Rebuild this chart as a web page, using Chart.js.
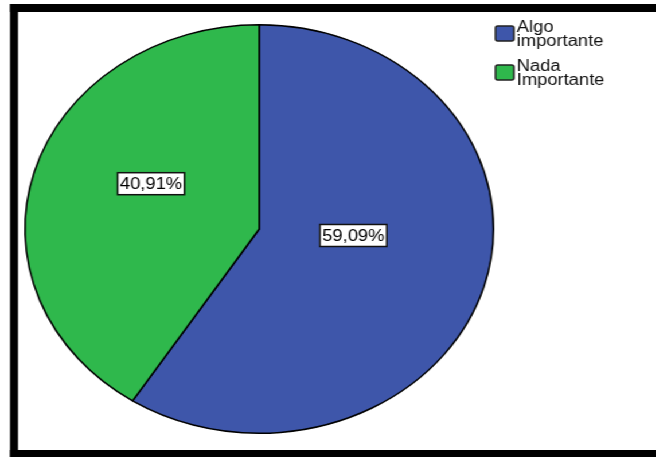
<!DOCTYPE html>
<html>
<head>
<meta charset="utf-8">
<script src="https://cdn.jsdelivr.net/npm/chart.js@4/dist/chart.umd.min.js"></script>
<style>
  html, body { margin: 0; padding: 0; background: #fff; overflow: hidden; }
  #wrap { width: 572px; height: 457px; transform: scaleX(1.147); transform-origin: 0 0; background: #fff; }
</style>
</head>
<body>
<div id="wrap"><canvas id="pieChart" width="572" height="457"></canvas></div>
<script>
const categories = ['Algo importante', 'Nada Importante'];
const legendLines = [['Algo', 'importante'], ['Nada', 'Importante']];
const percentages = [59.09, 40.91];
const sliceColors = ['#3e56aa', '#2fb84c'];

function pctText(v) {
    return v.toFixed(2).replace('.', ',') + '%';
}

// thick black frame around the plot
const framePlugin = {
    id: 'frame',
    afterDraw(chart) {
        const ctx = chart.ctx;
        ctx.save();
        ctx.fillStyle = '#000';
        ctx.fillRect(8.7, 4, chart.width, 8);
        ctx.fillRect(8.7, 4, 7, chart.height);
        ctx.fillRect(8.7, 450, chart.width, 8);
        ctx.restore();
    }
};

// boxed percentage labels inside each slice
const sliceLabels = {
    id: 'sliceLabels',
    afterDatasetsDraw(chart) {
        const ctx = chart.ctx;
        const meta = chart.getDatasetMeta(0);
        ctx.save();
        ctx.font = '16px "Liberation Sans", Arial, sans-serif';
        ctx.textAlign = 'center';
        ctx.textBaseline = 'middle';
        meta.data.forEach((arc, i) => {
            const p = arc.getProps(['x', 'y', 'startAngle', 'endAngle', 'outerRadius'], true);
            const mid = (p.startAngle + p.endAngle) / 2;
            const r = p.outerRadius;
            // along the mid angle, nudged a little up and left
            const lx = p.x + Math.cos(mid) * r * 0.45 - r * 0.03;
            const ly = p.y + Math.sin(mid) * r * 0.45 - r * 0.095;
            const txt = pctText(chart.data.datasets[0].data[i]);
            const w = ctx.measureText(txt).width + 4;
            const h = 22;
            ctx.fillStyle = '#fff';
            ctx.fillRect(lx - w / 2, ly - h / 2, w, h);
            ctx.lineWidth = 1.5;
            ctx.strokeStyle = '#111';
            ctx.strokeRect(lx - w / 2, ly - h / 2, w, h);
            ctx.fillStyle = '#000';
            ctx.fillText(txt, lx, ly + 1);
        });
        ctx.restore();
    }
};

// legend in the top right corner, two lines per entry
const sideLegend = {
    id: 'sideLegend',
    afterDraw(chart) {
        const ctx = chart.ctx;
        ctx.save();
        ctx.font = '16px "Liberation Sans", Arial, sans-serif';
        ctx.textBaseline = 'alphabetic';
        legendLines.forEach((lines, i) => {
            const top = 22 + i * 39;
            ctx.beginPath();
            ctx.roundRect(432, top + 4, 16, 15, 2);
            ctx.fillStyle = sliceColors[i];
            ctx.fill();
            ctx.lineWidth = 1.5;
            ctx.strokeStyle = '#222';
            ctx.stroke();
            ctx.fillStyle = '#111';
            lines.forEach((t, j) => ctx.fillText(t, 450.5, top + 10 + j * 14));
        });
        ctx.restore();
    }
};

new Chart(document.getElementById('pieChart'), {
    type: 'pie',
    data: {
        labels: categories,
        datasets: [{
            data: percentages,
            backgroundColor: sliceColors,
            borderColor: '#000',
            borderWidth: 1.5,
        }]
    },
    options: {
        responsive: false,
        animation: false,
        layout: { padding: { left: 21, right: 141, top: 24, bottom: 23 } },
        plugins: {
            legend: { display: false },
            tooltip: { enabled: false }
        }
    },
    plugins: [sliceLabels, sideLegend, framePlugin]
});
</script>
</body>
</html>
